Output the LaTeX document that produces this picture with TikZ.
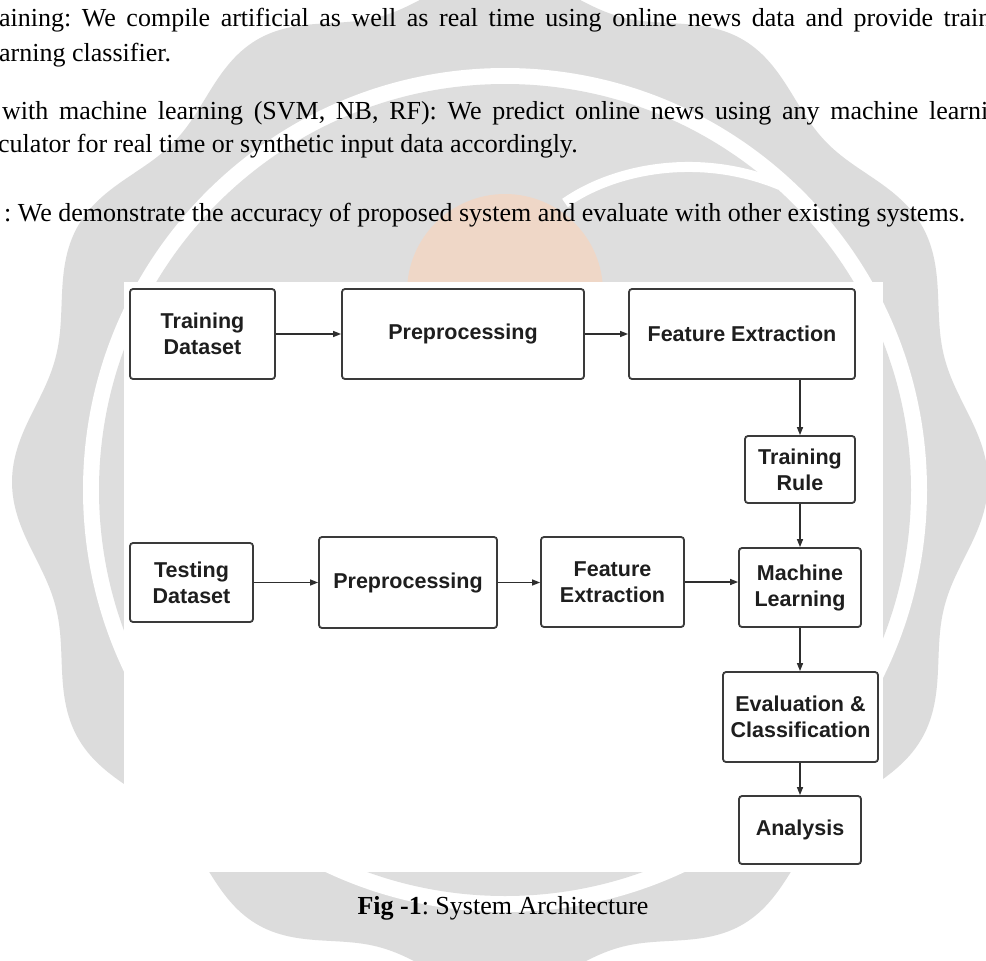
\documentclass[tikz,border=0pt]{standalone}
\usepackage{fontspec}
\setmainfont{Liberation Serif}
\newfontfamily\arialfont{Liberation Sans}
\usetikzlibrary{arrows.meta}
\definecolor{wmgray}{HTML}{DCDCDC}
\definecolor{wmgraytwo}{HTML}{DEDEDE}
\definecolor{wmorange}{HTML}{F4D6C2}
\definecolor{boxline}{HTML}{3A3A3A}
\definecolor{boxtext}{HTML}{1E1E1E}
\definecolor{arrowcol}{HTML}{2E2E2E}
\newcommand{\toptextfont}{\frenchspacing\fontsize{26}{35}\selectfont}
\newcommand{\boxtextfont}{\arialfont\bfseries\fontsize{21.5}{26}\selectfont}
\tikzset{
  flowbox/.style={draw=boxline, line width=1.8pt, rounded corners=3pt, fill=white,
    inner sep=0pt, align=center, font=\boxtextfont, text=boxtext},
  flowarrow/.style={draw=arrowcol, line width=1.4pt, -{Triangle[length=8pt,width=6pt]}},
  bodyline/.style={anchor=base west, inner sep=0pt, font=\toptextfont, text=black}
}
\begin{document}
\frenchspacing
\begin{tikzpicture}[x=1pt,y=-1pt]
\useasboundingbox (0,0) rectangle (986,961);
\clip (0,0) rectangle (986,961);
\fill[white] (0,0) rectangle (986,961);
% watermark
\fill[wmgray] plot[domain=0:360, samples=361, smooth]
  ({500+(474+14*cos(12*\x))*cos(\x)}, {482+(496+14*cos(12*\x))*sin(\x)}) -- cycle;
\fill[white] (505,490) circle[radius=422pt];
\fill[wmgraytwo] (505,490) circle[radius=406pt];
\fill[wmorange, opacity=0.8] (505,292) circle[radius=98pt];
\draw[white, line width=10pt] (565,203) .. controls (615,168) and (700,152) .. (780,185);
% body text
\node[bodyline] (l1) at (-1,27) {\makebox[992pt][s]{aining: We compile artificial as well as real time using online news data and provide train}};
\node[bodyline] (l2) at (-1,61) {arning classifier.};
\node[bodyline] (l3) at (2,119) {\makebox[986pt][s]{with machine learning (SVM, NB, RF): We predict online news using any machine learni}};
\node[bodyline] (l4) at (-2,152) {culator for real time or synthetic input data accordingly.};
\node[bodyline] (l5) at (4,221) {: We demonstrate the accuracy of proposed system and evaluate with other existing systems.};
% figure area
\fill[white] (124,282) rectangle (883,872);
\node[flowbox, minimum width=145pt, minimum height=90pt] (trainds) at (202.5,334) {Training\\Dataset};
\node[flowbox, minimum width=242pt, minimum height=90pt] (pre1) at (463,334) {Preprocessing};
\node[flowbox, minimum width=226pt, minimum height=90pt] (fe1) at (742,334) {Feature Extraction};
\node[flowbox, minimum width=110pt, minimum height=67pt] (rule) at (800,469.5) {Training\\Rule};
\node[flowbox, minimum width=122pt, minimum height=79pt] (ml) at (800,587.5) {Machine\\Learning};
\node[flowbox, minimum width=155pt, minimum height=90pt] (eval) at (800.5,717) {Evaluation \&\\Classification};
\node[flowbox, minimum width=122pt, minimum height=68pt] (analysis) at (800,830) {Analysis};
\node[flowbox, minimum width=123pt, minimum height=79pt] (testds) at (191.5,582.5) {Testing\\Dataset};
\node[flowbox, minimum width=178pt, minimum height=91pt] (pre2) at (408,582.5) {Preprocessing};
\node[flowbox, minimum width=143pt, minimum height=90pt] (fe2) at (612.5,582) {Feature\\Extraction};
\draw[flowarrow] (trainds.east) -- (pre1.west);
\draw[flowarrow] (pre1.east) -- (fe1.west);
\draw[flowarrow] (fe1.south -| rule.north) -- (rule.north);
\draw[flowarrow] (rule.south) -- (ml.north);
\draw[flowarrow] (ml.south) -- (ml.south |- eval.north);
\draw[flowarrow] (eval.south -| analysis.north) -- (analysis.north);
\draw[flowarrow] (testds.east) -- (testds.east -| pre2.west);
\draw[flowarrow] (pre2.east) -- (pre2.east -| fe2.west);
\draw[flowarrow] (fe2.east) -- (fe2.east -| ml.west);
% caption
\node[anchor=base, inner sep=0pt, font=\toptextfont] (caption) at (503,914) {\textbf{Fig -1}: System Architecture};
\end{tikzpicture}
\end{document}
